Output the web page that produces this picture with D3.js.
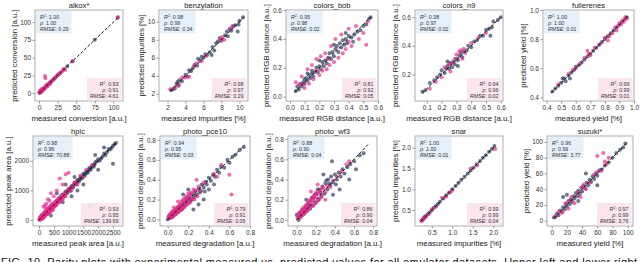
<!DOCTYPE html>
<html>
<head>
<meta charset="utf-8">
<script src="https://cdn.jsdelivr.net/npm/d3@7"></script>
<style>
  body { margin: 0; background: #fff; }
  text { font-family: "Liberation Sans", Arial, sans-serif; }
</style>
</head>
<body>
<svg id="chart" width="640" height="262"></svg>
<script>
// [measured, predicted] pairs
var alkoxTrain = [[0.5,0.6],[1,1.2],[2,2],[3,3.1],[4,4],[5,5.2],[6,6],[8,8.1],[10,10],[12,12],[14,14.1],[16,16],[18,18],[20,20],[22,22],[25,25],[28,28],[33,33],[38,38],[45,45],[75,75],[106,106]];
var alkoxTest = [[0.5,1],[1,3],[1.5,0.5],[2,4],[2.5,1.5],[3,3],[3.5,6],[4,2.5],[5,5],[6,7],[7,5.5],[8,8],[8,24],[8.5,21],[9,10],[10,11],[11,9],[12,13],[14,15],[15,13],[17,17],[19,19],[21,21],[23,23],[25,26],[27,27],[29,29],[31,31],[33,34],[35,33],[45,45],[106,107]];

var benzTrain = [[2.4,2.4],[2.6,2.5],[2.8,2.6],[3.0,3.1],[3.1,3.3],[3.2,2.9],[3.3,3.5],[3.6,3.4],[4.0,4.1],[4.2,3.9],[4.4,4.6],[4.6,4.5],[4.8,4.8],[5.0,5.2],[5.3,5.1],[5.4,5.9],[5.6,5.7],[5.8,6.1],[6.0,6.0],[6.2,6.4],[6.4,6.3],[6.7,6.6],[6.9,6.3],[7.0,7.2],[7.2,6.8],[7.4,7.6],[7.6,7.8],[7.8,8.2],[8.0,7.9],[8.4,8.5],[8.6,8.9],[8.7,8.4],[8.9,9.2],[9.1,9.0],[9.3,9.5],[9.5,9.6],[9.8,8.9],[9.9,9.7],[10.0,10.1],[10.4,10.5]];
var benzTest = [[2.3,2.5],[2.8,2.7],[3.3,3.0],[3.6,3.8],[3.9,3.8],[4.4,3.9],[4.9,5.0],[5.2,5.4],[5.8,5.6],[6.3,6.2],[7.9,8.0],[8.1,8.3],[8.3,8.0],[9.0,9.2],[9.2,9.5]];

var bobTrain = [[0.04,0.04],[0.05,0.07],[0.06,0.05],[0.07,0.09],[0.08,0.07],[0.09,0.10],[0.10,0.09],[0.10,0.12],[0.11,0.13],[0.12,0.11],[0.12,0.16],[0.13,0.15],[0.14,0.13],[0.15,0.16],[0.15,0.18],[0.16,0.14],[0.17,0.17],[0.18,0.20],[0.19,0.17],[0.20,0.21],[0.20,0.25],[0.21,0.19],[0.22,0.24],[0.23,0.21],[0.24,0.25],[0.25,0.23],[0.26,0.27],[0.27,0.30],[0.28,0.26],[0.29,0.31],[0.30,0.28],[0.30,0.36],[0.31,0.33],[0.32,0.35],[0.33,0.31],[0.34,0.37],[0.35,0.34],[0.36,0.39],[0.37,0.36],[0.38,0.40],[0.38,0.44],[0.39,0.37],[0.40,0.42],[0.42,0.41],[0.43,0.38],[0.44,0.43],[0.46,0.45],[0.48,0.46],[0.50,0.49],[0.52,0.50],[0.54,0.54],[0.55,0.55]];
var bobTest = [[0.04,0.10],[0.06,0.08],[0.08,0.14],[0.09,0.09],[0.10,0.06],[0.12,0.19],[0.13,0.09],[0.15,0.22],[0.16,0.12],[0.18,0.26],[0.18,0.18],[0.20,0.15],[0.21,0.28],[0.22,0.18],[0.24,0.30],[0.25,0.19],[0.26,0.26],[0.27,0.22],[0.28,0.35],[0.30,0.24],[0.31,0.40],[0.33,0.27],[0.35,0.43],[0.36,0.30],[0.38,0.33],[0.40,0.47],[0.40,0.38],[0.42,0.35],[0.45,0.49],[0.47,0.40],[0.50,0.44],[0.52,0.36],[0.53,0.52]];

var n9Train = [[0.07,0.08],[0.09,0.09],[0.12,0.14],[0.15,0.16],[0.17,0.18],[0.19,0.20],[0.20,0.23],[0.22,0.21],[0.23,0.24],[0.24,0.26],[0.24,0.29],[0.25,0.24],[0.26,0.28],[0.27,0.25],[0.28,0.29],[0.29,0.27],[0.30,0.31],[0.31,0.30],[0.31,0.26],[0.32,0.33],[0.33,0.35],[0.34,0.32],[0.35,0.36],[0.37,0.37],[0.38,0.40],[0.40,0.39],[0.42,0.43],[0.44,0.44],[0.46,0.47],[0.48,0.47],[0.50,0.51],[0.52,0.52],[0.53,0.47],[0.54,0.53],[0.55,0.57],[0.58,0.58],[0.60,0.60]];
var n9Test = [[0.12,0.10],[0.16,0.15],[0.20,0.18],[0.22,0.25],[0.25,0.27],[0.26,0.22],[0.27,0.28],[0.29,0.31],[0.30,0.34],[0.32,0.36],[0.33,0.37],[0.34,0.31],[0.35,0.38],[0.36,0.35],[0.40,0.42],[0.45,0.46],[0.50,0.49]];

var fullTrain = [[0.44,0.44],[0.46,0.46],[0.48,0.48],[0.50,0.50],[0.51,0.53],[0.52,0.53],[0.53,0.51],[0.55,0.55],[0.56,0.53],[0.57,0.57],[0.59,0.59],[0.60,0.61],[0.62,0.62],[0.64,0.64],[0.66,0.66],[0.68,0.68],[0.70,0.70],[0.72,0.72],[0.74,0.74],[0.76,0.76],[0.78,0.78],[0.80,0.80],[0.82,0.82],[0.84,0.84],[0.86,0.86],[0.88,0.88],[0.90,0.90],[0.92,0.92],[0.94,0.94],[0.95,0.95]];
var fullTest = [[0.48,0.49],[0.55,0.56],[0.58,0.59],[0.60,0.60],[0.63,0.63],[0.66,0.67],[0.68,0.72],[0.69,0.70],[0.70,0.69],[0.73,0.74],[0.77,0.77],[0.80,0.81],[0.82,0.79],[0.83,0.82],[0.85,0.84],[0.87,0.88],[0.88,0.86],[0.89,0.89],[0.90,0.91],[0.91,0.90],[0.92,0.93],[0.93,0.92],[0.94,0.95],[0.95,0.94]];

var hplcTrain = [[20,30],[30,10],[50,80],[60,50],[80,40],[100,150],[120,100],[150,120],[180,170],[200,260],[220,240],[250,200],[280,260],[300,340],[320,300],[350,300],[380,400],[400,460],[400,150],[430,450],[450,420],[480,500],[500,540],[520,510],[550,480],[580,560],[600,650],[600,900],[630,640],[650,600],[680,700],[700,760],[720,710],[750,700],[780,790],[800,850],[800,600],[820,830],[850,800],[870,880],[900,960],[900,1200],[930,940],[950,900],[980,990],[1000,1050],[1030,1020],[1050,980],[1080,1090],[1100,1150],[1100,800],[1130,1120],[1150,1100],[1180,1190],[1200,1260],[1200,1450],[1230,1240],[1250,1200],[1280,1270],[1300,1350],[1300,1000],[1330,1340],[1350,1300],[1380,1370],[1400,1450],[1430,1440],[1450,1400],[1480,1470],[1500,1560],[1500,1200],[1530,1540],[1550,1500],[1580,1570],[1600,1650],[1630,1640],[1650,1600],[1680,1690],[1700,1760],[1720,480],[1730,1720],[1750,1700],[1780,1790],[1800,1850],[1830,1840],[1850,1800],[1880,1870],[1900,1950],[1900,2200],[1950,1980],[2000,2050],[2000,1700],[2050,2000],[2100,2080],[2150,2150],[2200,2250],[2200,2450],[2250,2200],[2300,2300],[2350,2400],[2400,2380],[2450,2430],[2500,2500],[2500,1900],[2550,2560],[2600,2600]];
var hplcTest = [[10,10],[30,60],[40,100],[50,20],[60,120],[70,30],[80,70],[90,160],[100,40],[110,90],[120,180],[130,60],[150,100],[150,450],[160,230],[170,140],[180,220],[190,110],[200,150],[200,500],[210,260],[220,300],[230,190],[240,380],[250,180],[250,550],[260,230],[270,300],[280,350],[290,200],[300,240],[300,700],[310,330],[320,400],[330,270],[340,420],[350,280],[350,650],[360,350],[370,260],[380,450],[390,380],[400,330],[400,900],[410,440],[420,520],[430,350],[440,480],[450,380],[460,420],[470,330],[480,560],[490,500],[500,430],[500,800],[510,470],[530,560],[550,620],[560,500],[580,600],[600,520],[600,1000],[620,580],[640,680],[650,720],[680,650],[700,600],[700,1400],[720,740],[750,830],[760,700],[780,800],[800,700],[800,1200],[820,780],[850,900],[880,870],[900,800],[900,1550],[950,950],[1000,1050],[1000,1600],[1050,1100],[1100,1000],[1150,1150],[1200,1250],[1250,1300],[1300,1200],[1400,1500],[1500,1450],[1600,1700],[1800,1850]];

var pce10Train = [[0.0,0.0],[0.01,0.03],[0.02,0.01],[0.03,0.05],[0.04,0.02],[0.05,0.03],[0.06,0.08],[0.07,0.05],[0.08,0.06],[0.09,0.10],[0.10,0.12],[0.11,0.08],[0.12,0.14],[0.13,0.10],[0.14,0.11],[0.15,0.17],[0.15,0.25],[0.16,0.13],[0.17,0.15],[0.18,0.19],[0.19,0.16],[0.20,0.22],[0.20,0.30],[0.21,0.18],[0.22,0.19],[0.23,0.25],[0.24,0.20],[0.25,0.22],[0.25,0.10],[0.26,0.28],[0.27,0.24],[0.28,0.25],[0.30,0.31],[0.30,0.15],[0.31,0.27],[0.32,0.29],[0.33,0.35],[0.35,0.32],[0.35,0.20],[0.36,0.28],[0.37,0.38],[0.38,0.35],[0.40,0.42],[0.40,0.30],[0.42,0.39],[0.44,0.45],[0.45,0.35],[0.46,0.43],[0.48,0.50],[0.50,0.47],[0.52,0.53],[0.55,0.52],[0.58,0.60],[0.60,0.57],[0.63,0.63],[0.66,0.65],[0.70,0.70],[0.74,0.73]];
var pce10Test = [[0.01,0.01],[0.02,0.03],[0.02,0.05],[0.03,0.06],[0.03,0.02],[0.04,0.02],[0.04,0.08],[0.05,0.07],[0.05,0.04],[0.06,0.04],[0.06,0.12],[0.06,0.09],[0.07,0.09],[0.07,0.06],[0.08,0.05],[0.08,0.11],[0.09,0.11],[0.09,0.08],[0.10,0.07],[0.10,0.18],[0.10,0.13],[0.11,0.13],[0.11,0.10],[0.12,0.09],[0.12,0.16],[0.13,0.15],[0.13,0.12],[0.14,0.10],[0.14,0.19],[0.15,0.18],[0.15,0.13],[0.16,0.12],[0.16,0.21],[0.17,0.20],[0.17,0.16],[0.18,0.14],[0.18,0.23],[0.19,0.22],[0.19,0.18],[0.20,0.16],[0.20,0.26],[0.21,0.24],[0.21,0.20],[0.22,0.17],[0.22,0.27],[0.23,0.21],[0.24,0.26],[0.25,0.30],[0.26,0.20],[0.27,0.29],[0.28,0.40],[0.29,0.23],[0.30,0.33],[0.32,0.28],[0.35,0.37],[0.45,0.46],[0.48,0.43],[0.52,0.55],[0.60,0.45],[0.62,0.25]];

var wf3Train = [[0.0,0.05],[0.02,0.03],[0.02,0.00],[0.03,0.07],[0.05,0.04],[0.06,0.10],[0.08,0.06],[0.09,0.11],[0.10,0.13],[0.10,0.20],[0.11,0.09],[0.12,0.16],[0.13,0.14],[0.14,0.11],[0.15,0.19],[0.16,0.22],[0.17,0.14],[0.18,0.22],[0.19,0.25],[0.20,0.17],[0.21,0.26],[0.22,0.30],[0.23,0.20],[0.24,0.30],[0.25,0.27],[0.26,0.23],[0.27,0.33],[0.28,0.45],[0.29,0.26],[0.30,0.36],[0.31,0.39],[0.32,0.30],[0.33,0.40],[0.34,0.36],[0.35,0.34],[0.36,0.43],[0.37,0.58],[0.38,0.37],[0.38,0.25],[0.40,0.45],[0.41,0.35],[0.42,0.40],[0.44,0.47],[0.45,0.30],[0.46,0.43],[0.48,0.50],[0.50,0.46],[0.53,0.52],[0.55,0.40],[0.56,0.55],[0.60,0.58],[0.62,0.50],[0.66,0.64],[0.70,0.66]];
var wf3Test = [[0.01,0.02],[0.02,0.06],[0.03,0.05],[0.04,0.02],[0.04,0.08],[0.05,0.08],[0.06,0.05],[0.06,0.11],[0.07,0.10],[0.07,0.06],[0.08,0.07],[0.08,0.13],[0.09,0.12],[0.09,0.08],[0.10,0.08],[0.10,0.15],[0.11,0.14],[0.11,0.10],[0.12,0.10],[0.12,0.18],[0.13,0.16],[0.13,0.12],[0.14,0.12],[0.14,0.20],[0.15,0.18],[0.15,0.28],[0.16,0.14],[0.16,0.22],[0.17,0.20],[0.18,0.15],[0.18,0.24],[0.19,0.22],[0.20,0.17],[0.20,0.27],[0.21,0.25],[0.22,0.19],[0.22,0.35],[0.23,0.27],[0.24,0.21],[0.25,0.29],[0.26,0.24],[0.27,0.32],[0.28,0.31],[0.30,0.27],[0.30,0.20],[0.32,0.34],[0.35,0.32],[0.38,0.39],[0.42,0.43],[0.47,0.48],[0.52,0.55],[0.55,0.58]];

var snarTrain = [[0.25,0.25],[0.28,0.27],[0.30,0.30],[0.33,0.34],[0.36,0.36],[0.40,0.40],[0.45,0.45],[0.50,0.50],[0.55,0.56],[0.60,0.60],[0.65,0.65],[0.70,0.70],[0.78,0.78],[0.85,0.86],[0.92,0.92],[1.00,1.00],[1.08,1.08],[1.15,1.15],[1.22,1.23],[1.30,1.30],[1.38,1.38],[1.45,1.45],[1.52,1.52],[1.60,1.60],[1.68,1.68],[1.75,1.76],[1.82,1.82],[1.90,1.90],[1.97,1.97],[2.03,2.04]];
var snarTest = [[0.25,0.24],[0.28,0.27],[0.30,0.32],[0.35,0.33],[0.42,0.40],[0.50,0.52],[0.60,0.58],[0.75,0.80],[0.85,0.82],[0.95,0.93],[1.00,0.97],[1.45,1.50],[1.60,1.57],[2.05,1.97]];

var suzukiTrain = [[3,4],[5,5],[7,9],[9,7],[11,13],[13,11],[15,17],[15,30],[17,14],[19,21],[20,18],[20,33],[22,25],[24,21],[25,27],[27,24],[29,31],[30,28],[32,35],[34,31],[35,38],[35,25],[37,34],[39,42],[40,37],[42,44],[44,41],[45,60],[46,48],[48,45],[50,52],[52,49],[54,56],[56,53],[58,60],[60,57],[60,45],[63,64],[66,65],[70,70],[75,74],[80,80],[85,86],[90,90],[94,93],[97,98]];
var suzukiTest = [[5,6],[10,12],[14,10],[18,22],[22,15],[25,25],[26,30],[30,22],[34,36],[38,30],[40,42],[42,46],[45,40],[50,48],[55,58],[60,62],[60,82],[65,63],[68,86],[70,75],[72,72],[75,80]];

var titles = ['alkox*', 'benzylation', 'colors_bob', 'colors_n9', 'fullerenes', 'hplc', 'photo_pce10', 'photo_wf3', 'snar', 'suzuki*'];
var xLabels = ['measured conversion [a.u.]', 'measured impurities [%]', 'measured RGB distance [a.u.]', 'measured RGB distance [a.u.]', 'measured yield [%]',
  'measured peak area [a.u.]', 'measured degradation [a.u.]', 'measured degradation [a.u.]', 'measured impurities [%]', 'measured yield [%]'];
var yLabels = ['predicted conversion [a.u.]', 'predicted impurities [%]', 'predicted RGB distance [a.u.]', 'predicted RGB distance [a.u.]', 'predicted yield [%]',
  'predicted peak area [a.u.]', 'predicted degradation [a.u.]', 'predicted degradation [a.u.]', 'predicted impurities [%]', 'predicted yield [%]'];
var xTicks = [[0,25,50,75,100], [2,4,6,8,10], [0,0.1,0.2,0.3,0.4,0.5,0.6], [0.1,0.2,0.3,0.4,0.5,0.6], [0.4,0.5,0.6,0.7,0.8,0.9,1.0],
  [0,500,1000,1500,2000,2500], [0,0.2,0.4,0.6,0.8], [0,0.2,0.4,0.6,0.8], [0.5,1.0,1.5,2.0], [0,20,40,60,80,100]];
var yTicks = [[0,25,50,75,100], [2,4,6,8,10], [0,0.2,0.4,0.6], [0.2,0.4,0.6], [0.4,0.6,0.8,1.0],
  [0,1000,2000], [0,0.2,0.4,0.6,0.8], [0,0.2,0.4,0.6,0.8], [0.5,1.0,1.5,2.0], [0,20,40,60,80,100]];

// stats: upper-left box (blue) and lower-right box (pink)
var r2Train = ['1.00', '0.98', '0.95', '0.98', '1.00', '0.98', '0.94', '0.88', '1.00', '0.96'];
var rhoTrain = ['1.00', '0.99', '0.98', '0.97', '1.00', '0.96', '0.95', '0.90', '1.00', '0.99'];
var rmseTrain = ['0.29', '0.34', '0.02', '0.02', '0.01', '70.88', '0.03', '0.04', '0.01', '3.77'];
var r2Test = ['0.93', '0.98', '0.81', '0.94', '0.99', '0.93', '0.79', '0.86', '0.99', '0.97'];
var rhoTest = ['0.91', '0.97', '0.92', '0.96', '0.99', '0.95', '0.91', '0.90', '0.99', '0.99'];
var rmseTest = ['4.61', '0.29', '0.05', '0.02', '0.01', '139.69', '0.05', '0.04', '0.04', '3.76'];

var trainSets = [alkoxTrain, benzTrain, bobTrain, n9Train, fullTrain, hplcTrain, pce10Train, wf3Train, snarTrain, suzukiTrain];
var testSets = [alkoxTest, benzTest, bobTest, n9Test, fullTest, hplcTest, pce10Test, wf3Test, snarTest, suzukiTest];

// axis limits and where the dashed parity line runs
var xDomains = [[-5.5,113], [1.05,10.95], [-0.027,0.6], [0.02,0.615], [0.375,1.0], [-205,2840], [-0.075,0.8], [-0.09,0.84], [0.09,2.24], [-6.2,107]];
var yDomains = [[-11,117], [1.2,11.3], [-0.03,0.6], [0.015,0.65], [0.375,1.0], [-205,2840], [-0.067,0.84], [-0.06,0.83], [0.12,2.28], [-6.8,107.5]];
var diagRanges = [[0,107], [2.3,10.5], [0.03,0.55], [0.07,0.6], [0.43,0.96], [0,2650], [0,0.75], [0,0.75], [0.24,2.05], [3,98]];
var tickFormats = ['d', 'd', '.1f', '.1f', '.1f', 'd', '.1f', '.1f', '.1f', 'd'];

// layout: [left, top, width, height] of each plot frame
var frames = [[35,10,88,91], [159,10,89,91], [286,10,92,91], [415,10,88,91], [543,10,91,91],
  [33,136,90,90], [160,136,90,90], [288,136,89,90], [415,136,88,90], [547,136,86,90]];

var navy = '#34435f';
var pink = '#e7298a';

var svg = d3.select('#chart');

var statBox = function(g, lines, px, py, anchor, fill) {
  var lh = 6.2;
  var t = g.append('g');
  var txt = t.append('text')
    .attr('font-size', 5.3)
    .attr('fill', '#333')
    .attr('text-anchor', anchor);
  for (var k = 0; k < lines.length; k++) {
    var row = txt.append('tspan').attr('x', px).attr('y', py + k * lh);
    if (k == 0) {
      row.append('tspan').attr('font-style', 'italic').text('R');
      row.append('tspan').attr('font-size', 3.6).attr('dy', -2).text('2');
      row.append('tspan').attr('dy', 2).text(': ' + lines[k]);
    } else if (k == 1) {
      row.append('tspan').attr('font-style', 'italic').text('\u03c1');
      row.append('tspan').text(': ' + lines[k]);
    } else {
      row.append('tspan').attr('font-style', 'italic').text('RMSE');
      row.append('tspan').text(': ' + lines[k]);
    }
  }
  var bb = txt.node().getBBox();
  t.insert('rect', 'text')
    .attr('x', bb.x - 3).attr('y', bb.y - 2.5)
    .attr('width', bb.width + 6).attr('height', bb.height + 4)
    .attr('fill', fill).attr('opacity', 0.92);
};

var drawPanel = function(i) {
  var f = frames[i];
  var px0 = f[0], py0 = f[1], w = f[2], h = f[3];
  var x = d3.scaleLinear().domain(xDomains[i]).range([px0, px0 + w]);
  var y = d3.scaleLinear().domain(yDomains[i]).range([py0 + h, py0]);
  var g = svg.append('g');

  var clipId = 'clip' + i;
  svg.append('clipPath').attr('id', clipId)
    .append('rect').attr('x', px0).attr('y', py0).attr('width', w).attr('height', h);
  var plot = g.append('g').attr('clip-path', 'url(#' + clipId + ')');

  plot.selectAll('circle.train').data(trainSets[i]).enter().append('circle')
    .attr('class', 'train')
    .attr('cx', function(d) { return x(d[0]); })
    .attr('cy', function(d) { return y(d[1]); })
    .attr('r', 2)
    .attr('fill', navy).attr('fill-opacity', 0.72);
  plot.selectAll('circle.test').data(testSets[i]).enter().append('circle')
    .attr('class', 'test')
    .attr('cx', function(d) { return x(d[0]); })
    .attr('cy', function(d) { return y(d[1]); })
    .attr('r', 2)
    .attr('fill', pink).attr('fill-opacity', 0.68);

  var dr = diagRanges[i];
  plot.append('line')
    .attr('x1', x(dr[0])).attr('y1', y(dr[0]))
    .attr('x2', x(dr[1])).attr('y2', y(dr[1]))
    .attr('stroke', '#000').attr('stroke-width', 0.9)
    .attr('stroke-dasharray', '3,1.8');

  // axes
  var fmt = d3.format(tickFormats[i]);
  var xa = g.append('g').attr('transform', 'translate(0,' + (py0 + h) + ')')
    .call(d3.axisBottom(x).tickValues(xTicks[i]).tickFormat(fmt).tickSize(2.5).tickPadding(1.5));
  var ya = g.append('g').attr('transform', 'translate(' + px0 + ',0)')
    .call(d3.axisLeft(y).tickValues(yTicks[i]).tickFormat(fmt).tickSize(2.5).tickPadding(1.5));
  [xa, ya].forEach(function(a) {
    a.select('.domain').remove();
    a.selectAll('line').attr('stroke', '#666').attr('stroke-width', 0.7);
    a.selectAll('text').attr('font-size', 6.5).attr('fill', '#333')
      .attr('font-family', '"Liberation Sans", Arial, sans-serif');
  });

  g.append('rect')
    .attr('x', px0).attr('y', py0).attr('width', w).attr('height', h)
    .attr('fill', 'none').attr('stroke', '#999').attr('stroke-width', 0.8);

  // stat boxes
  statBox(g, [r2Train[i], rhoTrain[i], rmseTrain[i]], px0 + 5, py0 + 8.5, 'start', '#e4eff7');
  statBox(g, [r2Test[i], rhoTest[i], rmseTest[i]], px0 + w - 4.5, py0 + h - 15.5, 'end', '#fbe4ef');

  // labels
  g.append('text')
    .attr('x', px0 + w / 2).attr('y', py0 - 2.2)
    .attr('text-anchor', 'middle').attr('font-size', 7.6).attr('fill', '#222')
    .text(titles[i]);
  g.append('text')
    .attr('x', px0 + w / 2).attr('y', py0 + h + 19.5)
    .attr('text-anchor', 'middle').attr('font-size', 7.9).attr('fill', '#222')
    .text(xLabels[i]);
  // the axis group is translated, so its box is relative to px0
  var yb = ya.node().getBBox();
  g.append('text')
    .attr('transform', 'translate(' + (px0 + yb.x - 3.5) + ',' + (py0 + h / 2) + ') rotate(-90)')
    .attr('text-anchor', 'middle').attr('font-size', 7.9).attr('fill', '#222')
    .text(yLabels[i]);
};

for (var i = 0; i < titles.length; i++) {
  drawPanel(i);
}

// caption, cut by the bottom edge as in the picture
svg.append('text')
  .attr('x', 1).attr('y', 266)
  .attr('font-family', '"Liberation Serif", "DejaVu Serif", serif')
  .attr('font-size', 11).attr('fill', '#111')
  .attr('textLength', 636).attr('lengthAdjust', 'spacing')
  .text('FIG. 10. Parity plots with experimental measured vs. predicted values for all emulator datasets. Upper left and lower right');
</script>
</body>
</html>
